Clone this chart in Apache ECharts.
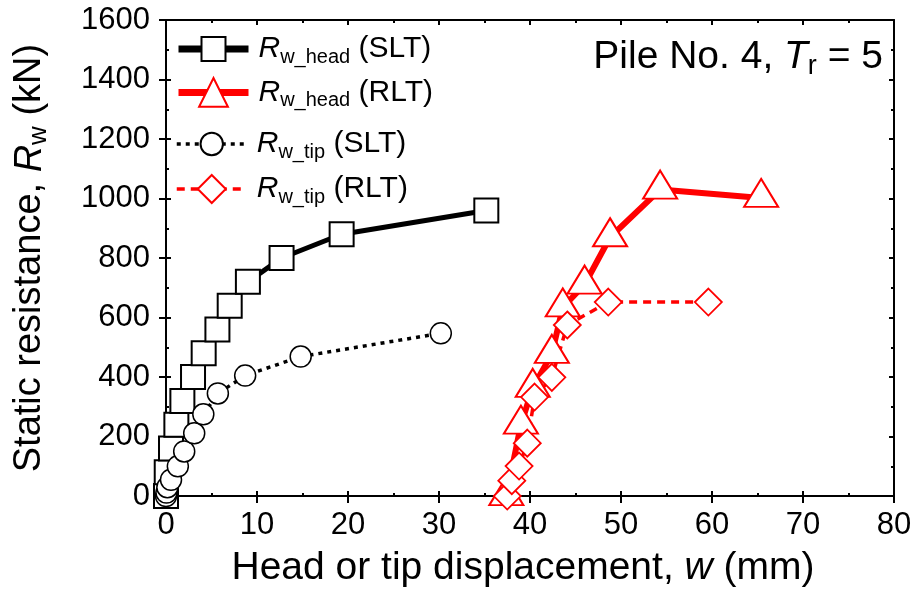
<!DOCTYPE html>
<html><head><meta charset="utf-8">
<script src="https://cdn.jsdelivr.net/npm/echarts@6/dist/echarts.min.js"></script>
<style>html,body{margin:0;padding:0;background:#fff}#c{width:917px;height:595px}</style>
</head><body><div id="c"></div>
<script>
// ---- data (w in mm, R in kN) ----
const sltHeadW = [0, 0.08, 0.55, 1.14, 1.8, 2.97, 4.14, 5.65, 7.0, 9.0, 12.7, 19.3, 35.2];
const sltHeadR = [0, 80, 160, 240, 320, 400, 480, 560, 640, 720, 800, 880, 960];
const rltHeadW = [37.4, 39.0, 40.3, 42.4, 43.6, 46.0, 48.8, 54.3, 65.4];
const rltHeadR = [0, 240, 364, 478, 634, 711, 870, 1030, 1002];
const sltTipW = [0, 0.05, 0.15, 0.55, 1.3, 2.0, 3.1, 4.1, 5.7, 8.7, 14.8, 30.2];
const sltTipR = [0, 12, 30, 55, 100, 150, 211, 275, 345, 405, 469, 547];
const rltTipW = [37.5, 38.0, 38.8, 39.7, 40.5, 42.4, 44.1, 48.6, 59.6];
const rltTipR = [0, 52, 101, 178, 333, 399, 575, 652, 652];
const xTicks = [0, 80, 10];
const yTicks = [0, 1600, 200];

const FF = '"Liberation Sans", Arial, Helvetica, sans-serif';
const pairs = (xs, ys) => xs.map((x, i) => [x, ys[i]]);
const chart = echarts.init(document.getElementById('c'), null, {renderer: 'canvas'});

const axLine = {color: '#000', width: 2};
const tickStyle = {color: '#000', width: 2};
const plain = v => String(v);

function xAx(pos, labels, inside, line) {
  return {
    type: 'value', min: xTicks[0], max: xTicks[1], interval: xTicks[2], position: pos,
    axisLine: {show: line, onZero: false, lineStyle: axLine},
    axisTick: {show: true, inside: inside, length: inside ? 5 : 7, lineStyle: tickStyle},
    minorTick: {show: inside, splitNumber: 2, length: 3, lineStyle: tickStyle},
    splitLine: {show: false},
    axisLabel: labels ? {show: true, fontSize: 31, color: '#000', margin: 14, fontFamily: FF, formatter: plain} : {show: false}
  };
}
function yAx(pos, labels, inside, line) {
  return {
    type: 'value', min: yTicks[0], max: yTicks[1], interval: yTicks[2], position: pos,
    axisLine: {show: line, onZero: false, lineStyle: axLine},
    axisTick: {show: true, inside: inside, length: inside ? 5 : 7, lineStyle: tickStyle},
    minorTick: {show: inside, splitNumber: 2, length: 3, lineStyle: tickStyle},
    splitLine: {show: false},
    axisLabel: labels ? {show: true, fontSize: 31, color: '#000', margin: 16, fontFamily: FF, formatter: plain} : {show: false}
  };
}

const xA0 = xAx('bottom', true, false, true);
xA0.name = 'Head or tip displacement, {i|w} {t|(mm)}';
xA0.nameLocation = 'middle';
xA0.nameGap = 43;
xA0.nameTextStyle = {fontSize: 39, color: '#000', fontFamily: FF, lineHeight: 44, padding: [0, 14, 0, 0],
  rich: {i: {fontSize: 39, fontStyle: 'italic', fontFamily: FF, color: '#000', lineHeight: 44},
         t: {fontSize: 39, fontFamily: FF, color: '#000', lineHeight: 44}}};

const yA0 = yAx('left', true, false, true);
yA0.name = 'Static resistance, {i|R}{s|w}{t| (kN)}';
yA0.nameLocation = 'middle';
yA0.nameGap = 114;
yA0.nameTextStyle = {fontSize: 38, color: '#000', fontFamily: FF, lineHeight: 44,
  rich: {i: {fontSize: 38, fontStyle: 'italic', fontFamily: FF, color: '#000', lineHeight: 44},
         s: {fontSize: 26, fontFamily: FF, color: '#000', lineHeight: 20, verticalAlign: 'bottom'},
         t: {fontSize: 38, fontFamily: FF, color: '#000', lineHeight: 44}}};

const legRich = {
  i: {fontSize: 30, fontStyle: 'italic', fontFamily: FF, color: '#000', lineHeight: 36, padding: [0, 0, 0, 5]},
  s: {fontSize: 20, fontFamily: FF, color: '#000', lineHeight: 16, verticalAlign: 'bottom'},
  t: {fontSize: 30, fontFamily: FF, color: '#000', lineHeight: 36}
};
function leg(name, sub, tag, top, ih, lw, ltype, color) {
  return {
    data: [name], left: 175, top: top, padding: 0, orient: 'vertical',
    itemWidth: 70, itemHeight: ih, selectedMode: false,
    lineStyle: {width: lw, type: ltype, color: color},
    formatter: () => '{i|R}{s|' + sub + '}{t| ' + tag + '}',
    textStyle: {rich: legRich, fontSize: 30, fontFamily: FF, color: '#000'}
  };
}

const sym = (color, bw) => ({color: '#fff', borderColor: color, borderWidth: bw});

const option = {
  animation: false,
  backgroundColor: '#fff',
  grid: {left: 164, right: 23, top: 20, bottom: 91, containLabel: false},
  title: {
    text: '{a|Pile No. 4, }{i|T}{s|r}{a| = 5}', right: 34, top: 34, padding: 0,
    textStyle: {fontSize: 39, fontFamily: FF, color: '#000', fontWeight: 'normal',
      rich: {a: {fontSize: 39, fontFamily: FF, color: '#000', lineHeight: 46},
             i: {fontSize: 39, fontStyle: 'italic', fontFamily: FF, color: '#000', lineHeight: 46},
             s: {fontSize: 27, fontFamily: FF, color: '#000', lineHeight: 20, verticalAlign: 'bottom'}}}
  },
  legend: [
    leg('SLT head', 'w_head', '(SLT)', 34, 30, 7, 'solid', '#000'),
    leg('RLT head', 'w_head', '(RLT)', 77, 36, 7, 'solid', '#ff0000'),
    leg('SLT tip', 'w_tip', '(SLT)', 129, 28, 3.5, [4, 5], '#000'),
    leg('RLT tip', 'w_tip', '(RLT)', 174, 35, 3.5, [8, 6], '#ff0000')
  ],
  xAxis: [xA0, xAx('bottom', false, true, false), xAx('top', false, true, true)],
  yAxis: [yA0, yAx('left', false, true, false), yAx('right', false, true, true)],
  series: [
    {name: 'SLT head', type: 'line', data: pairs(sltHeadW, sltHeadR), clip: false,
     symbol: 'rect', symbolSize: 24, itemStyle: sym('#000', 2),
     lineStyle: {color: '#000', width: 5}},
    {name: 'RLT head', type: 'line', data: pairs(rltHeadW, rltHeadR), clip: false,
     symbol: 'triangle', symbolSize: [34, 28], symbolOffset: [0, -5], itemStyle: sym('#ff0000', 2),
     lineStyle: {color: '#ff0000', width: 6}},
    {name: 'SLT tip', type: 'line', data: pairs(sltTipW, sltTipR), clip: false,
     symbol: 'circle', symbolSize: 21, itemStyle: sym('#000', 1.5),
     lineStyle: {color: '#000', width: 3.5, type: [4, 5]}},
    {name: 'RLT tip', type: 'line', data: pairs(rltTipW, rltTipR), clip: false,
     symbol: 'diamond', symbolSize: 27, itemStyle: sym('#ff0000', 1.8),
     lineStyle: {color: '#ff0000', width: 3.5, type: [8, 6]}}
  ]
};
chart.setOption(option);
</script></body></html>
